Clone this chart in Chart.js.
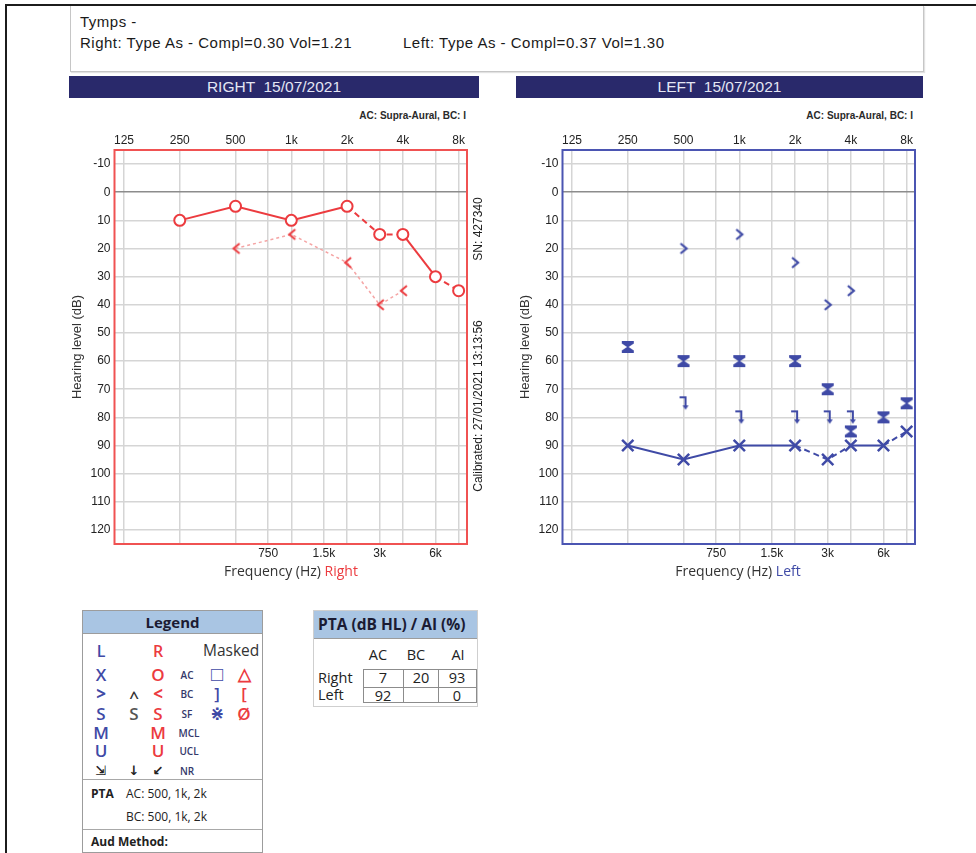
<!DOCTYPE html>
<html>
<head>
<meta charset="utf-8">
<script src="https://cdn.jsdelivr.net/npm/chart.js@4.4.1/dist/chart.umd.min.js"></script>
<style>
  body { margin: 0; width: 976px; height: 853px; background: #fff; position: relative; overflow: hidden;
         font-family: "Liberation Sans", Arial, sans-serif; color: #222; }
  .abs { position: absolute; }
  #frame { left: 5px; top: 4px; width: 990px; height: 870px; border-top: 2px solid #1c1c1c; border-left: 2px solid #1c1c1c; }
  #tymps { left: 70px; top: 6px; width: 852px; height: 65px; border: 1px solid #c6c6c6; border-top: none; box-shadow: 1px 1px 1px #e2e2e2; }
  .tt { font-size: 15px; letter-spacing: 0.5px; white-space: nowrap; color: #1a1a1a; }
  .bar { top: 76px; height: 22px; background: #29296b; color: #e4e6f4; font-size: 15.5px; text-align: center; line-height: 22px; white-space: pre; }
  .note { top: 110px; width: 200px; font-size: 10px; font-weight: bold; text-align: right; color: #2a2a2a; }
  .xt { top: 561px; width: 260px; text-align: center; font-family: "Open Sans", sans-serif; font-size: 14px; color: #333; }
  .rot { width: 220px; height: 14px; line-height: 14px; font-size: 12px; text-align: center; transform: rotate(-90deg); color: #222; white-space: nowrap; }
  #legend { left: 82px; top: 610px; width: 179px; height: 241px; border: 1px solid #9c9c9c; font-family: "Open Sans", sans-serif; }
  .hd { left: 0; top: 0; width: 100%; background: #a9c5e3; border-bottom: 1px solid #9c9c9c; font-weight: bold; color: #1b1b33; }
  .g { transform: translate(-50%, -50%); font-size: 17px; font-weight: 600; line-height: 1; white-space: nowrap; }
  .s { transform: translate(-50%, -50%); font-size: 10px; color: #34386a; line-height: 1; font-weight: 600; }
  .l { transform: translateY(-50%); line-height: 1; white-space: nowrap; }
  .sep { left: 0; width: 100%; height: 0; border-top: 1px solid #a8a8a8; }
  #pta { left: 313px; top: 610px; width: 163px; height: 95px; border: 1px solid #cfcfcf; font-family: "Open Sans", sans-serif; }
  .c { transform: translate(-50%, -50%); font-size: 14.5px; line-height: 1; color: #222; }
  .B { color: #3f4aa6; } .R { color: #ec3b3f; }
</style>
</head>
<body>
<div id="frame" class="abs"></div>
<div id="tymps" class="abs"></div>
<div class="abs tt" style="left:80px; top:13px;">Tymps -</div>
<div class="abs tt" style="left:80px; top:34px;">Right: Type As - Compl=0.30 Vol=1.21</div>
<div class="abs tt" style="left:403px; top:34px;">Left: Type As - Compl=0.37 Vol=1.30</div>

<div class="abs bar" style="left:69px; width:410px;">RIGHT  15/07/2021</div>
<div class="abs bar" style="left:516px; width:407px;">LEFT  15/07/2021</div>
<div class="abs note" style="left:266px;">AC: Supra-Aural, BC: I</div>
<div class="abs note" style="left:713px;">AC: Supra-Aural, BC: I</div>

<div class="abs" style="left:60px; top:120px;"><canvas id="rightChart" width="430" height="470"></canvas></div>
<div class="abs" style="left:508px; top:120px;"><canvas id="leftChart" width="430" height="470"></canvas></div>

<div class="abs rot" style="left:368px; top:222px;">SN: 427340</div>
<div class="abs rot" style="left:368px; top:399px;">Calibrated: 27/01/2021 13:13:56</div>

<div class="abs xt" style="left:161px;">Frequency (Hz) <span class="R">Right</span></div>
<div class="abs xt" style="left:608px;">Frequency (Hz) <span class="B">Left</span></div>

<div id="legend" class="abs">
  <div class="abs hd" style="height:22px; line-height:22px; text-align:center; font-size:15px;">Legend</div>
  <span class="abs g B" style="left:18px; top:40px; font-size:16px;">L</span>
  <span class="abs g R" style="left:75px; top:40px; font-size:16px;">R</span>
  <span class="abs l" style="left:120px; top:40px; font-size:15.5px; color:#333;">Masked</span>

  <span class="abs g B" style="left:18px; top:63px;">X</span>
  <span class="abs g R" style="left:75px; top:63px;">O</span>
  <span class="abs s" style="left:104px; top:64px;">AC</span>
  <span class="abs g B" style="left:134px; top:63px; font-size:20px; font-weight:normal;">□</span>
  <span class="abs g R" style="left:161px; top:62px; font-size:17px;">△</span>

  <span class="abs g B" style="left:18px; top:82px; font-weight:bold;">&gt;</span>
  <span class="abs g" style="left:51px; top:85px; color:#333;">^</span>
  <span class="abs g R" style="left:75px; top:82px; font-weight:bold;">&lt;</span>
  <span class="abs s" style="left:104px; top:83px;">BC</span>
  <span class="abs g B" style="left:134px; top:82px;">]</span>
  <span class="abs g R" style="left:161px; top:82px;">[</span>

  <span class="abs g B" style="left:18px; top:102px;">S</span>
  <span class="abs g" style="left:51px; top:102px; color:#555;">S</span>
  <span class="abs g R" style="left:75px; top:102px;">S</span>
  <span class="abs s" style="left:104px; top:103px;">SF</span>
  <span class="abs g B" style="left:134px; top:102px; font-family:'DejaVu Sans';">⋇</span>
  <span class="abs g R" style="left:161px; top:102px;">Ø</span>

  <span class="abs g B" style="left:18px; top:121px;">M</span>
  <span class="abs g R" style="left:75px; top:121px;">M</span>
  <span class="abs s" style="left:106px; top:122px;">MCL</span>

  <span class="abs g B" style="left:18px; top:139px;">U</span>
  <span class="abs g R" style="left:75px; top:139px;">U</span>
  <span class="abs s" style="left:106px; top:140px;">UCL</span>

  <span class="abs g" style="left:18px; top:159px; font-size:13px; font-family:'DejaVu Sans';">⇲</span>
  <span class="abs g" style="left:51px; top:159px; font-size:13px; font-family:'DejaVu Sans';">↓</span>
  <span class="abs g" style="left:75px; top:159px; font-size:13px; font-family:'DejaVu Sans';">↙</span>
  <span class="abs s" style="left:104px; top:160px;">NR</span>

  <div class="abs sep" style="top:168px;"></div>
  <span class="abs l" style="left:8px; top:183px; font-size:12px; font-weight:bold;">PTA</span>
  <span class="abs l" style="left:43px; top:183px; font-size:12px;">AC: 500, 1k, 2k</span>
  <span class="abs l" style="left:43px; top:206px; font-size:12px;">BC: 500, 1k, 2k</span>
  <div class="abs sep" style="top:218px;"></div>
  <span class="abs l" style="left:8px; top:231px; font-size:12px; font-weight:bold;">Aud Method:</span>
</div>

<div id="pta" class="abs">
  <div class="abs hd" style="height:27px; line-height:27px; padding-left:4px; width:159px; font-size:15.5px; white-space:nowrap;">PTA (dB HL) / AI (%)</div>
  <span class="abs c" style="left:64px; top:44px;">AC</span>
  <span class="abs c" style="left:102px; top:44px;">BC</span>
  <span class="abs c" style="left:144px; top:44px;">AI</span>
  <span class="abs l" style="left:4px; top:67px; font-size:14.5px;">Right</span>
  <span class="abs l" style="left:4px; top:84px; font-size:14.5px;">Left</span>
  <div class="abs" style="left:49px; top:58px; width:112px; height:32px; border:1.5px solid #8c8c8c;"></div>
  <div class="abs" style="left:89px; top:58px; width:0; height:34px; border-left:1.5px solid #8c8c8c;"></div>
  <div class="abs" style="left:124px; top:58px; width:0; height:34px; border-left:1.5px solid #8c8c8c;"></div>
  <div class="abs" style="left:49px; top:76px; width:114px; height:0; border-top:1.5px solid #8c8c8c;"></div>
  <span class="abs c" style="left:69px; top:67px;">7</span>
  <span class="abs c" style="left:107px; top:67px;">20</span>
  <span class="abs c" style="left:143px; top:67px;">93</span>
  <span class="abs c" style="left:69px; top:85px;">92</span>
  <span class="abs c" style="left:143px; top:85px;">0</span>
</div>

<script>
// audiogram thresholds (dB HL) by frequency (Hz)
const freqAC = [250, 500, 1000, 2000, 3000, 4000, 6000, 8000];
const freqBC = [500, 1000, 2000, 3000, 4000];
const rightAC = [10, 5, 10, 5, 15, 15, 30, 35];
const rightBC = [20, 15, 25, 40, 35];
const leftAC = [90, 95, 90, 90, 95, 90, 90, 85];
const leftBC = [20, 15, 25, 40, 35];
const leftACMasked = [55, 60, 60, 60, 70, 85, 80, 75];
const leftBCMasked = [75, 80, 80, 80, 80];

// axis ticks
const topFreqs = [125, 250, 500, 1000, 2000, 4000, 8000];
const topLabels = ['125', '250', '500', '1k', '2k', '4k', '8k'];
const midFreqs = [750, 1500, 3000, 6000];
const midLabels = ['750', '1.5k', '3k', '6k'];
const dbTicks = [-10, 0, 10, 20, 30, 40, 50, 60, 70, 80, 90, 100, 110, 120];

const RED = '#ec3b3f';
const BLUE = '#3f4aa6';
const dashFrom = [2000, 3000, 6000];

Chart.defaults.font.family = '"Liberation Sans", Arial, sans-serif';

const oct = f => Math.log2(f / 125);
const pts = (fs, vs) => fs.map((f, i) => ({ x: oct(f), y: vs[i] }));

function sym(w, h, draw) {
    const c = document.createElement('canvas');
    c.width = w; c.height = h;
    draw(c.getContext('2d'));
    return c;
}

const ltSym = sym(14, 14, g => {
    g.strokeStyle = RED; g.lineWidth = 2;
    g.beginPath(); g.moveTo(11, 2); g.lineTo(5, 7); g.lineTo(11, 12); g.stroke();
});
const gtSym = sym(14, 14, g => {
    g.strokeStyle = BLUE; g.lineWidth = 2.2;
    g.beginPath(); g.moveTo(4, 2); g.lineTo(10, 7); g.lineTo(4, 12); g.stroke();
});
const hourglass = sym(14, 14, g => {
    g.fillStyle = BLUE;
    g.beginPath();
    g.moveTo(1, 1); g.lineTo(13, 1); g.lineTo(13, 3.5); g.lineTo(7.8, 7); g.lineTo(13, 10.5);
    g.lineTo(13, 13); g.lineTo(1, 13); g.lineTo(1, 10.5); g.lineTo(6.2, 7); g.lineTo(1, 3.5);
    g.closePath(); g.fill();
});
const bracket = sym(14, 16, g => {
    g.strokeStyle = BLUE; g.fillStyle = BLUE; g.lineWidth = 2;
    g.beginPath(); g.moveTo(3, 2); g.lineTo(9, 2); g.lineTo(9, 11); g.stroke();
    g.beginPath(); g.moveTo(6, 10); g.lineTo(12, 10); g.lineTo(9, 14.5); g.closePath(); g.fill();
});

const frame = {
    id: 'frame',
    beforeDatasetsDraw(chart, args, opts) {
        const { ctx, chartArea: a } = chart;
        ctx.save();
        ctx.strokeStyle = opts.color;
        ctx.lineWidth = 2;
        ctx.strokeRect(a.left, a.top, a.right - a.left, a.bottom - a.top);
        ctx.restore();
    }
};

const tickFont = { size: 12 };
const gridCol = '#d5d5d5';

function scales() {
    return {
        x: {
            type: 'linear', position: 'bottom', min: -0.17, max: 6.15,
            afterBuildTicks: s => { s.ticks = midFreqs.map(f => ({ value: oct(f) })); },
            afterFit: s => { s.height = 46; },
            ticks: { callback: (v, i) => midLabels[i], autoSkip: false, maxRotation: 0, padding: 2, font: tickFont, color: '#222' },
            grid: { color: gridCol, lineWidth: 1.5, drawTicks: false },
            border: { display: false }
        },
        xTop: {
            type: 'linear', position: 'top', min: -0.17, max: 6.15,
            afterBuildTicks: s => { s.ticks = topFreqs.map(f => ({ value: oct(f) })); },
            afterFit: s => { s.height = 30; },
            ticks: { callback: (v, i) => topLabels[i], autoSkip: false, maxRotation: 0, padding: 2, font: tickFont, color: '#222' },
            grid: { color: gridCol, lineWidth: 1.5, drawTicks: false },
            border: { display: false }
        },
        y: {
            type: 'linear', reverse: true, min: -15, max: 125,
            afterBuildTicks: s => { s.ticks = dbTicks.map(v => ({ value: v })); },
            afterFit: s => { s.width = 54.5; },
            ticks: { padding: 4, font: tickFont, color: '#222' },
            grid: { color: c => (c.tick && c.tick.value === 0) ? '#8c8c8c' : gridCol, lineWidth: 1.5, drawTicks: false },
            border: { display: false },
            title: { display: true, text: 'Hearing level (dB)', font: { size: 13 }, color: '#333', padding: { top: 10, bottom: 0 } }
        }
    };
}

function options(color) {
    return {
        responsive: false,
        animation: false,
        layout: { padding: { left: 0, right: 23, top: 0, bottom: 0 } },
        scales: scales(),
        plugins: { legend: { display: false }, tooltip: { enabled: false }, frame: { color: color } }
    };
}

const dashSeg = fs => ({ borderDash: ctx => dashFrom.includes(fs[ctx.p0DataIndex]) ? [6, 4] : undefined });

new Chart(document.getElementById('rightChart'), {
    type: 'line',
    data: {
        datasets: [
            {
                label: 'AC', data: pts(freqAC, rightAC), borderColor: RED, borderWidth: 2,
                pointStyle: 'circle', pointRadius: 5.5, pointBorderWidth: 2,
                pointBackgroundColor: '#fff', pointBorderColor: RED, segment: dashSeg(freqAC), clip: false
            },
            {
                label: 'BC', data: pts(freqBC, rightBC), borderColor: '#f5a5a5', borderWidth: 1.5,
                borderDash: [3, 3], pointStyle: ltSym, pointRadius: 6, clip: false
            }
        ]
    },
    options: options('#f05252'),
    plugins: [frame]
});

new Chart(document.getElementById('leftChart'), {
    type: 'line',
    data: {
        datasets: [
            {
                label: 'AC', data: pts(freqAC, leftAC), borderColor: BLUE, borderWidth: 2,
                pointStyle: 'crossRot', pointRadius: 8, pointBorderWidth: 2.5,
                pointBorderColor: BLUE, segment: dashSeg(freqAC), clip: false
            },
            { label: 'BC', data: pts(freqBC, leftBC), showLine: false, pointStyle: gtSym, pointRadius: 6, clip: false },
            { label: 'AC masked', data: pts(freqAC, leftACMasked), showLine: false, pointStyle: hourglass, pointRadius: 6, clip: false },
            { label: 'BC masked', data: pts(freqBC, leftBCMasked), showLine: false, pointStyle: bracket, pointRadius: 6, clip: false }
        ]
    },
    options: options('#4b55b2'),
    plugins: [frame]
});
</script>
</body>
</html>
